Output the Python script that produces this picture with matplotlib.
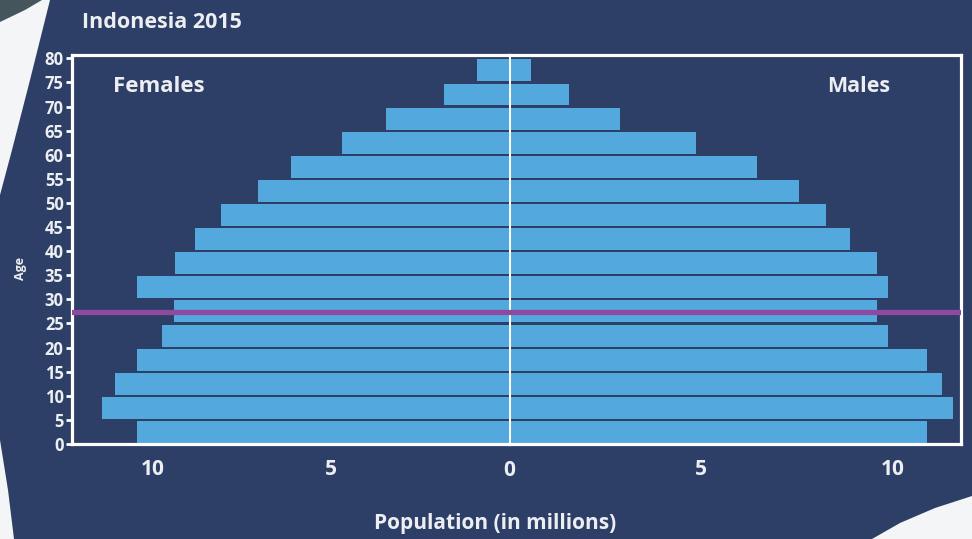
import numpy as np
import matplotlib
matplotlib.use("Agg")
import matplotlib.pyplot as plt
from matplotlib.patches import Polygon

# Indonesia 2015 population by five-year age group (millions)
age_groups = [0, 5, 10, 15, 20, 25, 30, 35, 40, 45, 50, 55, 60, 65, 70, 75]
females = [10.45, 11.44, 11.07, 10.45, 9.75, 9.41, 10.45, 9.38, 8.82, 8.08,
           7.04, 6.14, 4.70, 3.46, 1.83, 0.90]
males = [10.88, 11.56, 11.27, 10.88, 9.87, 9.58, 9.87, 9.58, 8.88, 8.26,
         7.56, 6.47, 4.86, 2.88, 1.56, 0.57]
age_ticks = list(range(0, 81, 5))
pop_ticks = [5, 10]
median_age = 27.3

NAVY = "#2d3f66"
BAR = "#53a8de"
PURPLE = "#8e4a9e"
TEXT = "#eceef2"
FONT = ["Open Sans", "DejaVu Sans"]

W, H = 972, 539
fig = plt.figure(figsize=(W / 100, H / 100), dpi=100, facecolor=NAVY)


def fx(px):
    return px / W


def fy(py):
    return 1 - py / H


# decorative light shapes at the corners
def corner(points, color):
    fig.patches.append(Polygon([(fx(x), fy(y)) for x, y in points], closed=True,
                               transform=fig.transFigure, facecolor=color,
                               edgecolor="none", zorder=0))


corner([(0, 0), (50, 0), (30, 80), (12, 150), (0, 195)], "#f4f5f6")
corner([(0, 0), (42, 0), (25, 10), (0, 22)], "#44555c")
corner([(0, 440), (8, 490), (14, 539), (0, 539)], "#f4f5f6")
corner([(872, 539), (900, 523), (935, 508), (972, 496), (972, 539)], "#f4f5f6")

top, bottom = 55, 444
x_left, x_mid, x_right = 72, 509, 961
ax_f = fig.add_axes([fx(x_left), fy(bottom), fx(x_mid - x_left), (bottom - top) / H])
ax_m = fig.add_axes([fx(x_mid), fy(bottom), fx(x_right - x_mid), (bottom - top) / H],
                    sharey=ax_f)

y = np.array(age_groups) + 2.5
ax_f.barh(y, females, height=4.55, color=BAR, edgecolor="none", zorder=2)
ax_m.barh(y, males, height=4.55, color=BAR, edgecolor="none", zorder=2)

ax_f.set_xlim(12.28, 0)
ax_m.set_xlim(0, 11.77)
ax_f.set_ylim(0, 80.7)

for ax in (ax_f, ax_m):
    ax.set_facecolor(NAVY)
    for s in ax.spines.values():
        s.set_color("white")
        s.set_linewidth(2.3)
    ax.set_xticks(pop_ticks)
    ax.set_xticklabels([str(t) for t in pop_ticks])
    ax.tick_params(axis="x", length=0, pad=11, labelcolor=TEXT, labelsize=15)
    for lab in ax.get_xticklabels():
        lab.set_fontweight("bold")
        lab.set_family(FONT)
    ax.axhline(median_age, color=PURPLE, lw=3.8, zorder=5)

ax_f.spines["right"].set_visible(False)
ax_m.spines["left"].set_visible(False)
ax_m.axvline(0, color="white", lw=2.2, zorder=4)

ax_f.set_yticks(age_ticks)
ax_f.set_yticklabels([str(a) for a in age_ticks])
ax_f.tick_params(axis="y", direction="out", length=4, width=2, color="white",
                 pad=2, labelcolor=TEXT, labelsize=12)
for lab in ax_f.get_yticklabels():
    lab.set_fontweight("bold")
    lab.set_family(FONT)
ax_m.tick_params(axis="y", left=False, labelleft=False)

# zero label sits on the centre line
fig.text(fx(509), fy(470), "0", ha="center", va="center", color=TEXT,
         fontsize=15, fontweight="bold", family=FONT)

fig.text(fx(82), fy(22), "Indonesia 2015", ha="left", va="center", color=TEXT,
         fontsize=15.5, fontweight="bold", family=FONT)
fig.text(fx(113), fy(87), "Females", ha="left", va="center", color=TEXT,
         fontsize=16, fontweight="bold", family=FONT)
fig.text(fx(890), fy(87), "Males", ha="right", va="center", color=TEXT,
         fontsize=15.5, fontweight="bold", family=FONT)
fig.text(fx(495), fy(524), "Population (in millions)", ha="center", va="center",
         color=TEXT, fontsize=15, fontweight="bold", family=FONT)
fig.text(fx(20), fy(268), "Age", ha="center", va="center", rotation=90,
         color=TEXT, fontsize=9, fontweight="bold", family=FONT)

fig.savefig("out.png", dpi=100, facecolor=NAVY)
